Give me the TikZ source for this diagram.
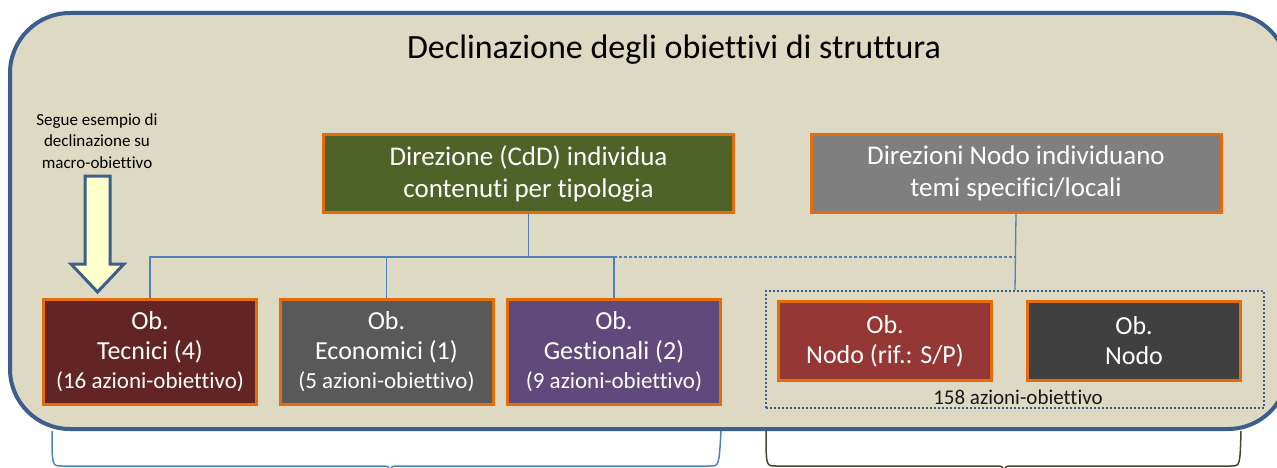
\documentclass[tikz,border=0pt]{standalone}
\usepackage{fontspec}
\setmainfont{Carlito}[Ligatures=NoCommon]
\usepackage{tikz}
\usetikzlibrary{positioning}
\definecolor{framefill}{HTML}{DDD9C3}
\definecolor{frameblue}{HTML}{3B5E8C}
\definecolor{boxorange}{HTML}{E46C0A}
\definecolor{linkblue}{HTML}{4F81BD}
\definecolor{braceolive}{HTML}{4A452A}
\definecolor{arrowfill}{HTML}{FFFFCC}
\definecolor{dirgreen}{HTML}{4F6228}
\definecolor{nodogray}{HTML}{7F7F7F}
\definecolor{tecred}{HTML}{632523}
\definecolor{ecogray}{HTML}{595959}
\definecolor{gespurple}{HTML}{604A7B}
\definecolor{nodored}{HTML}{953735}
\definecolor{nododark}{HTML}{404040}

\begin{document}
\begin{tikzpicture}[x=1pt,y=-1pt]
\tikzstyle{box}=[rectangle,align=center,draw=boxorange,line width=3pt,text=white,inner sep=0pt,font=\fontsize{26}{30}\selectfont]
\tikzstyle{topbox}=[box,minimum width=410pt,minimum height=78pt]
\tikzstyle{obbox}=[box,minimum width=213pt,minimum height=105pt]
\tikzstyle{nodobox}=[box,minimum width=213pt,minimum height=79pt]
\tikzstyle{link}=[draw=linkblue,line width=1.3pt]
\useasboundingbox (0,0) rectangle (1277,468);
\begin{scope}
\clip (0,0) rectangle (1277,468);
\draw[line width=4pt,draw=frameblue,fill=framefill,rounded corners=60pt] (10,13) rectangle (1288,429);
% braces below the frame
\draw[linkblue,line width=1.5pt] (52,431) .. controls (52,466) .. (62,466) -- (382,466) .. controls (389,466) .. (390,475);
\draw[linkblue,line width=1.5pt] (721,431) .. controls (719,466) .. (710,466) -- (398,466) .. controls (391,466) .. (390,475);
\draw[braceolive,line width=1.5pt] (766,431) .. controls (766,466) .. (776,466) -- (996,466) .. controls (1003,466) .. (1004,475);
\draw[braceolive,line width=1.5pt] (1241,431) .. controls (1240,466) .. (1231,466) -- (1012,466) .. controls (1005,466) .. (1004,475);
\end{scope}

\node[font=\fontsize{34}{38}\selectfont] at(674, 50) (title) {Declinazione degli obiettivi di struttura};
\node[align=center,font=\fontsize{17}{21.5}\selectfont] at(97, 141) (note) {Segue esempio di\\declinazione su\\macro-obiettivo};
\draw[line width=3pt,draw=frameblue,fill=arrowfill,line join=miter]
  (85,176) -- (110,176) -- (110,264) -- (124,264) -- (97.5,292) -- (71,264) -- (85,264) -- cycle;

\node[topbox,fill=dirgreen,font=\fontsize{27}{32}\selectfont] at(528.5, 173.5) (dir) {Direzione (CdD) individua\\contenuti per tipologia};
\node[topbox,fill=nodogray,font=\fontsize{27}{32}\selectfont] at(1016, 173.5) (temi) {Direzioni Nodo individuano\\temi specifici/locali};

\node[obbox,fill=tecred] at(150, 352) (tec) {Ob.\\Tecnici (4)\\[-1pt]{\fontsize{23}{26}\selectfont(16 azioni-obiettivo)}};
\node[obbox,fill=ecogray] at(386.5, 352) (eco) {Ob.\\Economici (1)\\[-1pt]{\fontsize{23}{26}\selectfont(5 azioni-obiettivo)}};
\node[obbox,fill=gespurple] at(614, 352) (ges) {Ob.\\Gestionali (2)\\[-1pt]{\fontsize{23}{26}\selectfont(9 azioni-obiettivo)}};

\node[draw=frameblue,line width=2pt,dotted,minimum width=498pt,minimum height=117pt,inner sep=0pt] at(1015, 349.5) (nodi) {};
\node[nodobox,fill=nodored] at(885, 341) (nodosp) {Ob.\\Nodo (rif.: S/P)};
\node[nodobox,fill=nododark] at(1134, 341) (nodo) {Ob.\\Nodo};
\node[font=\fontsize{21}{24}\selectfont,text=black!90] at(1018, 397) (azioni) {158 azioni-obiettivo};

\coordinate (hub) at (dir.south |- 0,257);
\draw[link] (dir.south) -- (hub);
\draw[link] (tec.north) |- (hub) -| (ges.north);
\draw[link] (eco.north) -- (eco.north |- hub);
\draw[link,dash pattern=on 3pt off 2pt] (ges.north |- hub) -- (nodi.north |- hub);
\draw[link] (temi.south) -- (nodi.north);
\end{tikzpicture}
\end{document}
